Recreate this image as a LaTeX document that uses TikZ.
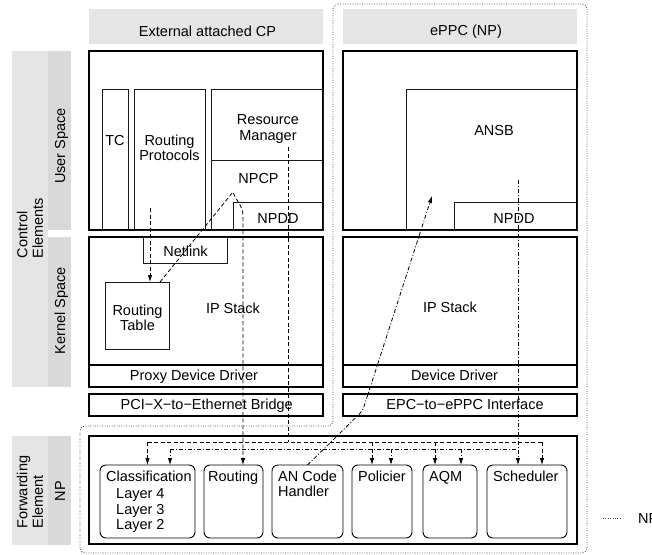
\documentclass[tikz,border=0pt]{standalone}
\usepackage{fontspec}
\setmainfont{Liberation Sans}
\usepackage{tikz}
\usetikzlibrary{arrows.meta, positioning}

\tikzstyle{strip} = [rectangle, draw=none, inner sep=0pt, outer sep=0pt]
\tikzstyle{box} = [rectangle, draw=black, line width=1.1pt, inner sep=0pt, outer sep=0pt]
\tikzstyle{inbox} = [rectangle, draw=black!90, line width=0.8pt, inner sep=0pt, outer sep=0pt]
\tikzstyle{unit} = [rectangle, rounded corners=6pt, draw=black, line width=0.9pt, inner sep=0pt, outer sep=0pt, minimum height=73pt]
\tikzstyle{lbl} = [inner sep=0pt, anchor=base]
\tikzstyle{lbll} = [inner sep=0pt, anchor=base west]
\tikzstyle{multi} = [inner sep=0pt, anchor=north, align=center]
\tikzstyle{side} = [inner sep=0pt, rotate=90, align=left]
\tikzstyle{dline} = [line width=0.8pt, dash pattern=on 4pt off 2.5pt]
\tikzstyle{ddline} = [line width=0.8pt, dash pattern=on 4pt off 2pt on 1pt off 2pt]
\tikzstyle{npline} = [line width=0.8pt, black!75, dash pattern=on 0.8pt off 1.6pt]
\tikzstyle{arrow} = [-{Latex[length=7pt,width=4.5pt]}]

\begin{document}
\begin{tikzpicture}[x=1pt, y=-1pt, font=\fontsize{14.5}{15.5}\selectfont]
\useasboundingbox (0,0) rectangle (652,554);

% side strips and column headers
\node (ctrlcol) [strip, fill=black!10, minimum width=36pt, minimum height=336pt] at (30,219) {};
\node (usercol) [strip, fill=black!15, minimum width=23pt, minimum height=179pt] at (59.5,140.5) {};
\node (kerncol) [strip, fill=black!15, minimum width=23pt, minimum height=150pt] at (59.5,312) {};
\node (fwdcol) [strip, fill=black!10, minimum width=36pt, minimum height=109pt] at (30,490.5) {};
\node (npcol) [strip, fill=black!15, minimum width=23pt, minimum height=109pt] at (59.5,490.5) {};
\node (cphdr) [strip, fill=black!10, minimum width=234pt, minimum height=35pt] at (206,26.5) {};
\node (npphdr) [strip, fill=black!10, minimum width=234pt, minimum height=35pt] at (460,26.5) {};

\node (ctrltxt) [side] at (30,228) {Control\\Elements};
\node (fwdtxt) [side] at (30,492) {Forwarding\\Element};
\node (usertxt) [side, anchor=base] at (65,146) {User Space};
\node (kerntxt) [side, anchor=base] at (65,311) {Kernel Space};
\node (nptxt) [side, anchor=base] at (65,491) {NP};
\node (cptxt) [lbl] at (207.5,36) {External attached CP};
\node (eppctxt) [lbl] at (466,35.5) {ePPC (NP)};

% NP region
\draw [npline, rounded corners=5pt] (333,4) -- (587,4) -- (587,553) -- (80,553) -- (80,426) -- (333,426) -- cycle;

% external CP
\node (userL) [box, minimum width=234pt, minimum height=179pt] at (206,140.5) {};
\node (tc) [inbox, minimum width=26pt, minimum height=141pt] at (115,159.5) {};
\node (rprot) [inbox, minimum width=71pt, minimum height=141pt] at (169.5,159.5) {};
\node (resmgr) [inbox, minimum width=112pt, minimum height=71pt] at (267,124.5) {};
\node (npcp) [inbox, minimum width=112pt, minimum height=70pt] at (267,195) {};
\node (npddL) [inbox, minimum width=90pt, minimum height=28pt] at (278,216) {};
\node (kernL) [box, minimum width=234pt, minimum height=150pt] at (206,312) {};
\node (netlink) [inbox, minimum width=84pt, minimum height=26pt] at (185,250) {};
\node (rtab) [inbox, minimum width=64pt, minimum height=67pt] at (137,315.5) {};
\node (pdd) [box, minimum width=234pt, minimum height=22pt] at (206,376) {};
\node (pcix) [box, minimum width=234pt, minimum height=22pt] at (206,405) {};

\node (tctxt) [lbl] at (115,145) {TC};
\node (rptxt) [multi] at (169.5,134.6) {Routing\\Protocols};
\node (rmtxt) [multi] at (268,114.6) {Resource\\Manager};
\node (npcptxt) [lbl] at (258.5,183) {NPCP};
\node (npddLtxt) [lbl] at (278,223) {NPDD};
\node (nltxt) [lbl] at (185.5,256.7) {Netlink};
\node (rttxt) [multi] at (137.5,304.6) {Routing\\Table};
\node (ipLtxt) [lbl] at (233,313) {IP Stack};
\node (pddtxt) [lbl] at (194,380.7) {Proxy Device Driver};
\node (pcixtxt) [lbl] at (206.7,409.5) {PCI−X−to−Ethernet Bridge};

% ePPC
\node (userR) [box, minimum width=234pt, minimum height=179pt] at (460,140.5) {};
\node (ansb) [inbox, minimum width=171pt, minimum height=141pt] at (491.5,159.5) {};
\node (npddR) [inbox, minimum width=123pt, minimum height=28pt] at (515.5,216) {};
\node (kernR) [box, minimum width=234pt, minimum height=150pt] at (460,312) {};
\node (dd) [box, minimum width=234pt, minimum height=22pt] at (460,376) {};
\node (epc) [box, minimum width=234pt, minimum height=22pt] at (460,405) {};

\node (ansbtxt) [lbl] at (494,135) {ANSB};
\node (npddRtxt) [lbl] at (514,223) {NPDD};
\node (ipRtxt) [lbl] at (450,312) {IP Stack};
\node (ddtxt) [lbl] at (454.5,380.7) {Device Driver};
\node (epctxt) [lbl] at (465,409.5) {EPC−to−ePPC Interface};

% forwarding element
\node (fwd) [box, minimum width=488pt, minimum height=108pt] at (333,490) {};
\node (class) [unit, minimum width=95pt] at (147.5,501.5) {};
\node (routing) [unit, minimum width=59pt] at (233.5,501.5) {};
\node (ancode) [unit, minimum width=71pt] at (307.5,501.5) {};
\node (policier) [unit, minimum width=60pt] at (382,501.5) {};
\node (aqm) [unit, minimum width=54pt] at (450,501.5) {};
\node (sched) [unit, minimum width=80pt] at (527,501.5) {};

\node (classtxt) [lbll] at (106,481) {Classification};
\node (layertxt) [multi, anchor=north west, align=left] at (116,488.6) {Layer 4\\Layer 3\\Layer 2};
\node (routingtxt) [lbll] at (208,481) {Routing};
\node (ancodetxt) [multi, anchor=north west, align=left] at (278,470.6) {AN Code\\Handler};
\node (policiertxt) [lbll] at (358,481) {Policier};
\node (aqmtxt) [lbll] at (429,481) {AQM};
\node (schedtxt) [lbll] at (493,481) {Scheduler};

% control paths
\coordinate (busA) at (0,442);
\coordinate (busB) at (0,449);

\draw [dline, arrow] ([xshift=-19.5pt,yshift=22pt]rprot.south) coordinate (rp) -- (rp |- rtab.north);
\draw [dline, arrow] ([xshift=-9pt]rtab.north east) -- ([yshift=10pt]npddL.north west)
  to[out=-70,in=90] ([xshift=10pt,yshift=-14pt]npddL.north west) -- ([xshift=9.5pt]routing.north);

\path ([xshift=21pt,yshift=-58pt]resmgr.north) coordinate (rm);
\foreach \n/\dx in {class/0, policier/-10, aqm/-15, sched/15} {
  \path ([xshift=\dx pt]\n.north) coordinate (a-\n);
  \draw [dline, arrow] (a-\n |- busA) -- (a-\n);
}
\draw [dline] (a-class |- busA) -- (a-sched |- busA);
\draw [dline] (rm) -- (rm |- busA);

\path ([xshift=26.5pt,yshift=-91pt]ansb.north) coordinate (ab);
\foreach \n/\dx in {class/22.5, policier/9, aqm/11, sched/-9}
  \path ([xshift=\dx pt]\n.north) coordinate (b-\n);
\draw [ddline, arrow] (ab) -- (b-sched);
\foreach \n in {class, policier, aqm}
  \draw [ddline, arrow] (b-\n |- busB) -- (b-\n);
\draw [ddline] (b-class |- busB) -- (b-sched |- busB);

\draw [ddline, arrow, rounded corners=4pt] (ancode.north) -- ++(55,-54) -- ([xshift=26pt,yshift=34pt]ansb.south west);

% legend
\node (nplbl) [lbll] at (638,523) {NP};
\draw [npline] ([xshift=-35pt]nplbl.west) -- ([xshift=-16pt]nplbl.west);

\end{tikzpicture}
\end{document}
